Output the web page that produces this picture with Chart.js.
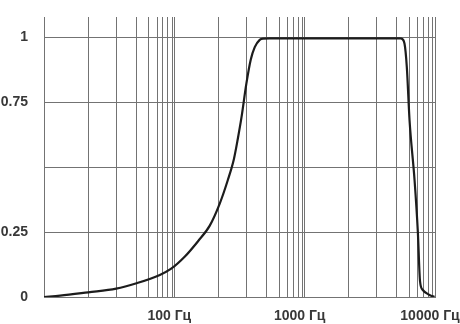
<!DOCTYPE html>
<html>
<head>
<meta charset="utf-8">
<script src="https://cdn.jsdelivr.net/npm/chart.js@4/dist/chart.umd.min.js"></script>
<style>
  html, body { margin: 0; padding: 0; background: #ffffff; }
  #wrap { width: 460px; height: 324px; position: relative; }
</style>
</head>
<body>
<div id="wrap"><canvas id="c" width="460" height="324"></canvas></div>
<script>
// Frequency (Hz) and response
const freqs = [10, 13.3, 21.8, 35.8, 51.3, 77.4, 94, 120, 152, 187, 223, 257, 286, 307, 327, 357, 386, 414, 452, 479, 540,
               1000, 3000, 5346, 5508, 5837, 6078, 6380, 6970, 7385, 7678, 8060, 9076, 9910];
const response = [0, 0.005, 0.018, 0.032, 0.053, 0.085, 0.108, 0.155, 0.215, 0.275, 0.36, 0.45, 0.53, 0.61, 0.69, 0.822, 0.915, 0.963, 0.991, 0.996, 0.997,
                  0.997, 0.997, 0.997, 0.996, 0.976, 0.886, 0.68, 0.45, 0.251, 0.06, 0.027, 0.008, 0];

// Grid lines on the frequency axis (Hz) and their labels
const decadeBases = [10, 100, 1000];
const decadeSteps = [1, 2.184, 3.582, 5.101, 6.372, 7.393, 8.161, 8.915, 9.636];
const xLabels = { 100: '100 Гц', 1000: '1000 Гц', 10000: '10000 Гц' };

// Response axis ticks and labels
const yTicks = [0, 0.25, 0.5, 0.75, 1];
const yLabels = { 0: '0', 0.25: '0.25', 0.75: '0.75', 1: '1' };

const xGrid = [];
decadeBases.forEach(b => decadeSteps.forEach(s => xGrid.push(b * s)));
xGrid.push(10000);

const points = freqs.map((f, i) => ({ x: f, y: response[i] }));
const gridColor = '#737373';
const font = { family: "'Liberation Sans', Arial, sans-serif", size: 14, weight: 'bold' };

new Chart(document.getElementById('c'), {
  type: 'line',
  data: {
    datasets: [{
      data: points,
      borderColor: '#1c1c1c',
      borderWidth: 2.2,
      pointRadius: 0,
      fill: false,
      cubicInterpolationMode: 'monotone'
    }]
  },
  options: {
    responsive: false,
    animation: false,
    devicePixelRatio: 1,
    layout: { padding: { top: 17, right: 25, bottom: 0, left: 0 } },
    plugins: { legend: { display: false }, tooltip: { enabled: false } },
    scales: {
      x: {
        type: 'logarithmic',
        min: 10,
        max: 10000,
        afterBuildTicks: s => { s.ticks = xGrid.map(v => ({ value: v })); },
        afterFit: s => { s.height = 27; s.paddingLeft = 0; s.paddingRight = 0; },
        ticks: {
          autoSkip: false,
          maxRotation: 0,
          minRotation: 0,
          padding: 11,
          labelOffset: -5,
          color: '#383838',
          font: font,
          callback: v => {
            const k = Math.round(v);
            return (xLabels[k] !== undefined && Math.abs(v - k) < 1e-6) ? xLabels[k] : '';
          }
        },
        grid: { color: gridColor, lineWidth: 1, drawTicks: false },
        border: { display: true, color: gridColor, width: 1 }
      },
      y: {
        type: 'linear',
        min: 0,
        max: 1.079,
        afterBuildTicks: s => { s.ticks = yTicks.map(v => ({ value: v })); },
        afterFit: s => { s.width = 44; s.paddingTop = 0; s.paddingBottom = 0; },
        ticks: {
          padding: 16,
          color: '#383838',
          font: font,
          callback: v => (yLabels[v] !== undefined ? yLabels[v] : '')
        },
        grid: { color: gridColor, lineWidth: 1, drawTicks: false },
        border: { display: true, color: gridColor, width: 1 }
      }
    }
  }
});
</script>
</body>
</html>
